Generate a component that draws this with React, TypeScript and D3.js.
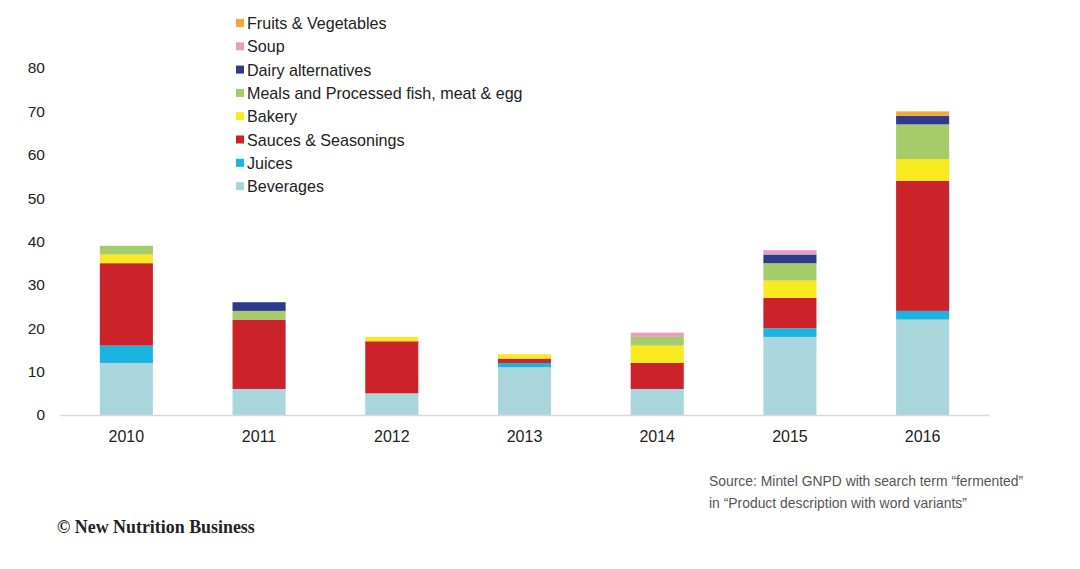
import React from 'react'
import * as d3 from 'd3'

const years = ['2010', '2011', '2012', '2013', '2014', '2015', '2016']

// series in stacking order, bottom first
const seriesNames = [
  'Beverages',
  'Juices',
  'Sauces & Seasonings',
  'Bakery',
  'Meals and Processed fish, meat & egg',
  'Dairy alternatives',
  'Soup',
  'Fruits & Vegetables',
]

const beverages = [12, 6, 5, 11, 6, 18, 22]
const juices = [4, 0, 0, 1, 0, 2, 2]
const sauces = [19, 16, 12, 1, 6, 7, 30]
const bakery = [2, 0, 1, 1, 4, 4, 5]
const meals = [2, 2, 0, 0, 2, 4, 8]
const dairy = [0, 2, 0, 0, 0, 2, 2]
const soup = [0, 0, 0, 0, 1, 1, 0]
const fruits = [0, 0, 0, 0, 0, 0, 1]

const seriesColors = [
  '#a9d5dc',
  '#19b4e0',
  '#cc2229',
  '#f8ea1c',
  '#a5cc68',
  '#2f3a8d',
  '#e3a1c0',
  '#f5a834',
]

const yTicks = [0, 10, 20, 30, 40, 50, 60, 70, 80]

const W = 1080
const H = 569

export default function App() {
  const allSeries = [beverages, juices, sauces, bakery, meals, dairy, soup, fruits]
  const rows = years.map((y, i) => {
    const row: Record<string, number | string> = { year: y }
    seriesNames.forEach((name, s) => {
      row[name] = allSeries[s][i]
    })
    return row
  })

  const stack = d3.stack<Record<string, number | string>>().keys(seriesNames)
  const stacked = stack(rows as any)

  const x = d3.scaleBand().domain(years).range([60, 989]).paddingInner(0.6).paddingOuter(0.3)
  const y = d3.scaleLinear().domain([0, 80]).range([415, 68])

  const legendOrder = [...seriesNames].reverse()

  return (
    <svg
      width={W}
      height={H}
      style={{ position: 'absolute', left: 0, top: 0, background: '#fff' }}
      fontFamily="Arial, 'Liberation Sans', sans-serif"
    >
      <rect width={W} height={H} fill="#fff" />

      {/* bars */}
      {stacked.map((layer, s) => (
        <g key={layer.key} fill={seriesColors[s]}>
          {layer.map((d, i) =>
            d[1] - d[0] > 0 ? (
              <rect
                key={years[i]}
                x={x(years[i])}
                y={y(d[1])}
                width={x.bandwidth()}
                height={y(d[0]) - y(d[1])}
              />
            ) : null
          )}
        </g>
      ))}

      {/* baseline */}
      <line x1={60} x2={990} y1={y(0) + 0.5} y2={y(0) + 0.5} stroke="#d9d9d9" strokeWidth={1.5} />

      {/* y tick labels */}
      {yTicks.map((t) => (
        <text key={t} x={45} y={y(t)} dy="0.35em" textAnchor="end" fontSize={15.5} fill="#222">
          {t}
        </text>
      ))}

      {/* x tick labels */}
      {years.map((yr) => (
        <text
          key={yr}
          x={(x(yr) ?? 0) + x.bandwidth() / 2}
          y={442}
          textAnchor="middle"
          fontSize={16}
          fill="#222"
        >
          {yr}
        </text>
      ))}

      {/* legend */}
      {legendOrder.map((name, i) => {
        const cy = 23.5 + i * 23.3
        return (
          <g key={name}>
            <rect x={236} y={cy - 4.5} width={8} height={8} fill={seriesColors[seriesNames.indexOf(name)]} />
            <text x={247} y={cy} dy="0.35em" fontSize={16.1} fill="#222">
              {name}
            </text>
          </g>
        )
      })}

      {/* source */}
      <text x={709} y={486} fontSize={13.9} fill="#555">
        Source: Mintel GNPD with search term “fermented”
      </text>
      <text x={709} y={508} fontSize={13.9} fill="#555">
        in “Product description with word variants”
      </text>

      <text
        x={57}
        y={533}
        fontSize={17.9}
        fontWeight="bold"
        fontFamily="'Liberation Serif', 'Times New Roman', serif"
        fill="#222"
      >
        © New Nutrition Business
      </text>
    </svg>
  )
}
